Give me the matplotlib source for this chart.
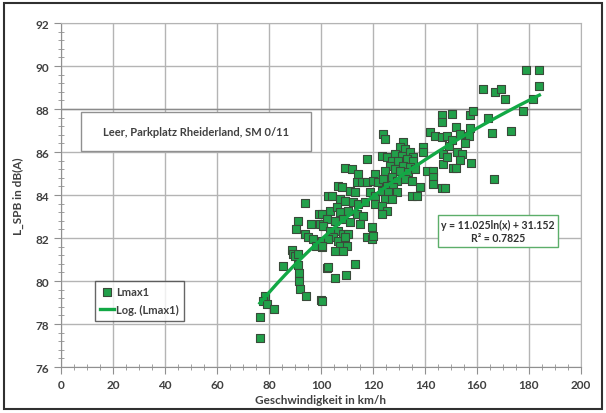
import numpy as np
import matplotlib
matplotlib.use("Agg")
import matplotlib.pyplot as plt
from matplotlib.patches import Rectangle
from matplotlib.ticker import MultipleLocator

plt.rcParams['font.family'] = ['Lato', 'DejaVu Sans']

# speed (km/h) and Lmax1 (dB(A))
speed = [
    76.5, 76.5, 78.5, 77.6, 79.1, 81.9, 85.5, 88.7, 89.3, 90.0, 91.3, 91.3,
    91.5, 91.7, 91.9, 94.2, 93.8, 91.3, 90.4, 93.8, 96.0, 95.1, 97.0, 99.4,
    99.6, 100.9, 100.3, 98.1, 100.3, 99.9, 102.4, 102.8,
    117.6, 109.2, 111.8, 114.3, 120.8, 113.7, 115.6, 117.6, 120.1, 122.0,
    106.7, 108.0, 111.2, 113.1, 104.1, 118.8, 120.8, 107.3, 109.2, 112.4,
    114.3, 116.9, 120.8, 103.5, 106.0, 107.3, 110.5, 113.7, 116.3, 100.3,
    102.2, 105.4, 108.6, 111.2, 115.0, 119.5, 100.9, 103.5, 106.7, 108.6,
    110.5, 104.7, 102.8, 106.7, 109.2, 117.6, 119.5, 120.1, 100.3, 107.3,
    109.9, 105.4, 108.6, 102.8, 113.1, 105.4, 109.6, 100.3,
    146.4, 146.4, 141.9, 143.8, 146.4, 148.3, 124.0, 124.6, 131.7, 130.4,
    132.3, 139.1, 139.1, 147.0, 123.3, 125.3, 128.5, 131.0, 134.2, 135.5,
    127.2, 129.7, 133.0, 135.5, 126.5, 128.5, 131.7, 134.2, 147.0, 124.6,
    130.4, 133.6, 136.2, 140.7, 143.2, 124.0, 127.2, 129.1, 132.3, 134.9,
    143.2, 125.3, 127.8, 138.1, 143.2, 146.4, 147.7, 123.3, 125.9, 129.1,
    124.6, 127.2, 134.9, 136.8, 123.3, 125.3, 123.3, 148.6, 149.2,
    150.5, 151.9, 157.3, 158.6, 157.3, 156.9, 153.5, 155.2, 152.4, 154.1,
    153.5, 157.6, 150.7, 151.9, 162.2, 164.4, 165.6, 166.7, 166.9, 169.1,
    170.8, 173.1, 177.7, 178.7, 184.0, 183.8, 181.7, 150.3,
]
lmax1 = [
    77.33, 78.34, 79.29, 79.08, 78.93, 78.70, 80.68, 81.44, 81.26, 81.15, 81.26, 80.74,
    80.36, 80.01, 79.63, 79.32, 83.61, 82.81, 82.42, 82.19, 82.65, 82.03, 81.95, 83.12,
    82.65, 82.65, 81.87, 81.64, 81.56, 79.13, 80.59, 83.97,
    85.67, 85.26, 85.21, 84.98, 84.98, 84.59, 84.59, 84.59, 84.67, 84.59,
    84.43, 84.36, 84.20, 84.13, 83.97, 84.13, 83.97, 83.81, 83.74, 83.66,
    83.58, 83.66, 83.58, 83.27, 83.43, 83.19, 83.27, 83.12, 83.04, 83.12,
    82.88, 82.80, 82.88, 82.73, 82.65, 82.50, 82.57, 82.34, 82.34, 82.19,
    82.19, 82.03, 81.95, 81.87, 82.03, 82.03, 81.95, 82.10, 81.64, 81.64,
    81.64, 81.41, 81.41, 80.63, 80.79, 80.13, 80.28, 79.08,
    87.72, 87.38, 86.95, 86.76, 86.68, 86.76, 86.84, 86.60, 86.45, 86.22,
    86.14, 86.22, 86.01, 85.91, 85.83, 85.75, 85.91, 85.83, 85.98, 85.75,
    85.60, 85.60, 85.67, 85.60, 85.36, 85.21, 85.36, 85.29, 85.44, 85.13,
    85.13, 85.05, 85.21, 85.13, 85.13, 84.74, 84.82, 84.67, 84.74, 84.67,
    84.82, 84.44, 84.36, 84.36, 84.51, 84.31, 84.31, 84.20, 84.13, 84.13,
    83.81, 83.81, 83.97, 83.97, 83.50, 83.27, 83.12, 85.75, 86.30,
    87.77, 87.18, 87.70, 87.90, 87.10, 86.76, 86.84, 86.40, 86.00, 85.90,
    85.64, 85.47, 85.24, 85.24, 88.93, 87.58, 86.90, 84.74, 88.78, 88.93,
    88.47, 87.00, 87.90, 89.83, 89.83, 89.05, 88.47, 86.55,
]

# logarithmic trend line from the equation in the chart
coef_a = 11.025
coef_b = 31.152
r_squared = 0.7825
trend_x = np.linspace(min(speed), max(speed), 200)
trend_y = coef_a * np.log(trend_x) + coef_b

green = '#22a04a'
fig = plt.figure(figsize=(6.06, 4.14), dpi=100)
ax = fig.add_axes([0.1007, 0.1111, 0.8580, 0.8309])

ax.scatter(speed, lmax1, marker='s', s=30, color=green, edgecolors='#3a4a3a',
           linewidths=0.8, zorder=3, label='Lmax1')
ax.plot(trend_x, trend_y, color='#12a845', lw=2.4, zorder=4, label='Log. (Lmax1)')

ax.set_xlim(0, 200)
ax.set_ylim(76, 92)
ax.xaxis.set_major_locator(MultipleLocator(20))
ax.xaxis.set_minor_locator(MultipleLocator(5))
ax.yaxis.set_major_locator(MultipleLocator(2))
ax.yaxis.set_minor_locator(MultipleLocator(0.4))
ax.grid(which='major', color='#b4b4b4', lw=1.0)
ax.axhline(88, color='#8a8a8a', lw=1.0, zorder=1)
ax.set_axisbelow(True)
for side in ax.spines:
    ax.spines[side].set_color('#b4b4b4')
ax.spines['left'].set_color('#909090')
ax.spines['bottom'].set_color('#909090')
ax.tick_params(which='major', direction='out', length=5, color='#909090',
               labelsize=8.5, labelcolor='#404040')
ax.tick_params(which='minor', direction='inout', length=5, color='#909090')
for lab in ax.get_xticklabels() + ax.get_yticklabels():
    lab.set_fontweight('bold')

ax.set_xlabel('Geschwindigkeit in km/h', fontsize=8.5, fontweight='bold',
              color='#404040', labelpad=3)
ax.set_ylabel('L_SPB in dB(A)', fontsize=8.5, fontweight='bold',
              color='#404040', labelpad=8)

# site label box
ax.add_patch(Rectangle((0.0385, 0.628), 0.4423, 0.113, transform=ax.transAxes,
                       facecolor='white', edgecolor='#909090', lw=1.0, zorder=5))
ax.text(0.2596, 0.6845, 'Leer, Parkplatz Rheiderland, SM 0/11', transform=ax.transAxes,
        ha='center', va='center', fontsize=8, fontweight='bold', color='#404040', zorder=6)

# equation box
ax.add_patch(Rectangle((0.725, 0.349), 0.231, 0.093, transform=ax.transAxes,
                       facecolor='white', edgecolor='#5cae6a', lw=1.0, zorder=5))
ax.text(0.8405, 0.3955, f'y = {coef_a}ln(x) + {coef_b}\nR² = {r_squared}',
        transform=ax.transAxes, ha='center', va='center', fontsize=7.6,
        fontweight='bold', color='#303030', linespacing=1.3, zorder=6)

leg = ax.legend(loc='lower left', bbox_to_anchor=(0.054, 0.119), frameon=True,
                fancybox=False, edgecolor='#404040', fontsize=8, handlelength=1.2,
                handletextpad=0.2, borderpad=0.5, labelspacing=0.6,
                prop={'weight': 'bold', 'size': 8})
leg.get_frame().set_linewidth(1.0)
for t in leg.get_texts():
    t.set_color('#404040')

# outer chart border
fig.patches.append(Rectangle((4 / 606, 4 / 414), 598 / 606, 406 / 414,
                             transform=fig.transFigure, fill=False,
                             edgecolor='#303030', lw=1.5))

fig.savefig('out.png', dpi=100)
